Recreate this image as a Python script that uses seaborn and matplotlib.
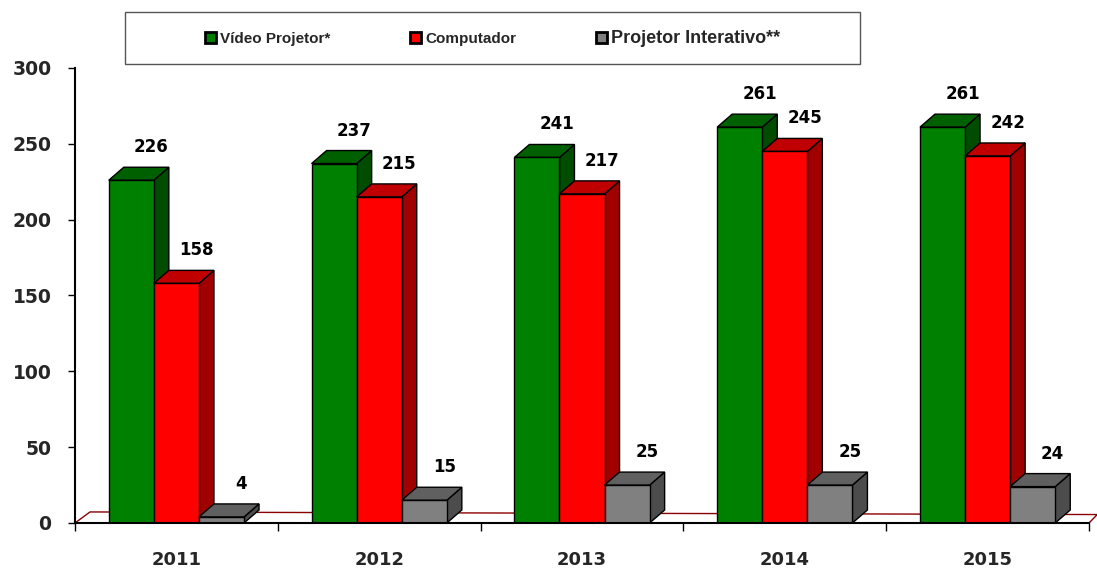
import numpy as np
import pandas as pd
import matplotlib
matplotlib.use("Agg")
import matplotlib.pyplot as plt
import seaborn as sns
from matplotlib.patches import Polygon, Rectangle

years = ["2011", "2012", "2013", "2014", "2015"]
video = [226, 237, 241, 261, 261]
comp = [158, 215, 217, 245, 242]
interativo = [4, 15, 25, 25, 24]
series = ["Vídeo Projetor*", "Computador", "Projetor Interativo**"]
front_colors = ["#008000", "#FF0000", "#808080"]
top_colors = ["#006000", "#C00000", "#606060"]
side_colors = ["#004C00", "#A00000", "#4C4C4C"]
yticks = [0, 50, 100, 150, 200, 250, 300]

df = pd.DataFrame({
    "Ano": years * 3,
    "Serie": [s for s in series for _ in years],
    "Valor": video + comp + interativo,
})

sns.set_theme(style="white")
plt.rcParams["font.family"] = ["DejaVu Sans"]

W, H = 1097, 570
fig = plt.figure(figsize=(W / 100, H / 100), dpi=100)
ax = fig.add_axes([75 / W, 1 - 523 / H, 1014 / W, 455 / H])

sns.barplot(data=df, x="Ano", y="Valor", hue="Serie", hue_order=series,
            palette=front_colors, width=0.667, gap=0, edgecolor="black",
            linewidth=1, saturation=1, legend=False, errorbar=None, ax=ax)
ax.set_xlim(-0.5, 4.5)
ax.set_ylim(0, 300)

# depth offsets (pixels -> data)
DXP, DYP = 15, 13
px_per_x = 1014 / 5
px_per_y = 455 / 300
dx = DXP / px_per_x
dy = DYP / px_per_y

# floor
floor = Polygon([(-0.5, 0), (4.5, 0), (4.5 + dx * 0.55, dy * 0.65), (-0.5 + dx, dy * 0.85)],
                closed=True, facecolor="white", edgecolor="#8B0000", lw=1.0,
                zorder=1, clip_on=False)
ax.add_patch(floor)

for k, cont in enumerate(ax.containers):
    for p in cont.patches:
        x0, w, h = p.get_x(), p.get_width(), p.get_height()
        p.set_zorder(3 + 2 * k)
        top = Polygon([(x0, h), (x0 + w, h), (x0 + w + dx, h + dy), (x0 + dx, h + dy)],
                      closed=True, facecolor=top_colors[k], edgecolor="black", lw=1,
                      zorder=2 + 2 * k, clip_on=False)
        side = Polygon([(x0 + w, 0), (x0 + w + dx, dy), (x0 + w + dx, h + dy), (x0 + w, h)],
                       closed=True, facecolor=side_colors[k], edgecolor="black", lw=1,
                       zorder=2 + 2 * k, clip_on=False)
        ax.add_patch(side)
        ax.add_patch(top)
        ax.annotate(f"{int(round(h))}", xy=(x0 + w / 2 + dx, h + dy),
                    xytext=(5 * 0.72, 20 * 0.72), textcoords="offset points",
                    ha="center", va="center", fontsize=12, fontweight="bold",
                    color="black", zorder=20, annotation_clip=False)

# axes styling
for s in ["top", "right"]:
    ax.spines[s].set_visible(False)
for s in ["left", "bottom"]:
    ax.spines[s].set_color("black")
    ax.spines[s].set_linewidth(1.5)
    ax.spines[s].set_zorder(15)

ax.set_yticks(yticks)
ax.set_yticklabels([str(v) for v in yticks], fontsize=13.5, fontweight="bold")
ax.tick_params(axis="y", direction="out", length=5, width=1, color="black", pad=12, left=True)
ax.set_xticks(range(len(years)))
ax.set_xticklabels(years, fontsize=13, fontweight="bold")
ax.set_xticks(np.arange(-0.5, 5, 1), minor=True)
ax.tick_params(axis="x", which="major", length=0, pad=20)
ax.tick_params(axis="x", which="minor", direction="out", length=6, width=1, color="black", bottom=True)
ax.set_xlabel("")
ax.set_ylabel("")
ax.grid(False)

# legend
handles = [Rectangle((0, 0), 1, 1, facecolor=c, edgecolor="black", lw=2) for c in front_colors]
leg = fig.legend(handles, series, loc="center", bbox_to_anchor=((125 + 860) / 2 / W, 1 - 38.5 / H),
                 ncol=3, frameon=False, handlelength=0.75, handleheight=0.75,
                 handletextpad=0.25, columnspacing=5.2,
                 prop={"family": "Liberation Sans", "weight": "bold", "size": 11})
sizes = [11, 11, 13]
for t, s in zip(leg.get_texts(), sizes):
    t.set_fontsize(s)
fig.patches.append(Rectangle((125 / W, 1 - 64 / H), 735 / W, 52 / H, transform=fig.transFigure,
                             fill=False, edgecolor="#555555", lw=1))

fig.savefig("out.png", dpi=100)
